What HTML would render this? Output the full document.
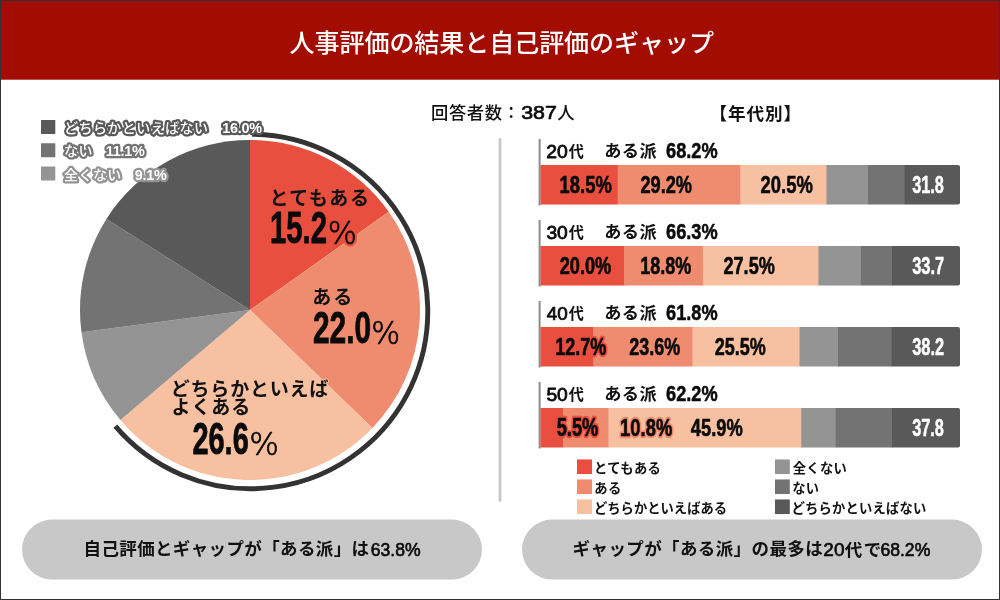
<!DOCTYPE html>
<html lang="ja"><head><meta charset="utf-8"><title>人事評価の結果と自己評価のギャップ</title>
<style>
html,body{margin:0;padding:0;background:#fff;}
svg{display:block;}
text{font-family:"Liberation Sans", "Noto Sans CJK JP", sans-serif;}
.lg{font-weight:500;fill:#fff;stroke-width:4.6px;stroke-linejoin:round;paint-order:stroke fill;}
</style></head><body>
<svg width="1000" height="600" viewBox="0 0 1000 600">
<rect x="0" y="0" width="1000" height="600" fill="#fff"/>
<rect x="0" y="0" width="1000" height="79.7" fill="#A30C00"/>
<text x="289.55" y="52.20" font-size="25.00" letter-spacing="-0.041" font-weight="500" fill="#fff">人事評価の結果と自己評価のギャップ</text>
<path d="M250 310 L250.00 140.00 A170 170 0 0 1 388.78 211.81 Z" fill="#E84F3E"/>
<path d="M250 310 L388.78 211.81 A170 170 0 0 1 372.45 427.92 Z" fill="#EF8C70"/>
<path d="M250 310 L372.45 427.92 A170 170 0 0 1 120.38 420.00 Z" fill="#F6C0A1"/>
<path d="M250 310 L120.38 420.00 A170 170 0 0 1 81.48 332.37 Z" fill="#949494"/>
<path d="M250 310 L81.48 332.37 A170 170 0 0 1 106.46 218.91 Z" fill="#737373"/>
<path d="M250 310 L106.46 218.91 A170 170 0 0 1 250.00 140.00 Z" fill="#595959"/>
<path d="M252.05 134.26 A177.25 177.25 0 1 1 115.36 426.19" fill="none" stroke="#333" stroke-width="4.9"/>
<rect x="41" y="120" width="14.3" height="14" fill="#595959"/>
<text class="lg" x="64" y="133" font-size="14" letter-spacing="0.45" stroke="#595959">どちらかといえばない</text>
<text class="lg" x="222.3" y="133" font-size="14.4" font-weight="700" style="font-weight:700" letter-spacing="-0.25" stroke="#595959">16.0%</text>
<rect x="41" y="143.25" width="14.3" height="14" fill="#737373"/>
<text class="lg" x="64" y="156.25" font-size="14" letter-spacing="0.45" stroke="#737373">ない</text>
<text class="lg" x="105.8" y="156.25" font-size="14.4" font-weight="700" style="font-weight:700" letter-spacing="-0.25" stroke="#737373">11.1%</text>
<rect x="41" y="166.5" width="14.3" height="14" fill="#949494"/>
<text class="lg" x="64" y="179.5" font-size="14" letter-spacing="0.45" stroke="#949494">全くない</text>
<text class="lg" x="134.8" y="179.5" font-size="14.4" font-weight="700" style="font-weight:700" letter-spacing="-0.25" stroke="#949494">9.1%</text>
<text x="269.38" y="205.47" font-size="19.00" letter-spacing="1.505" font-weight="700" fill="#111" stroke="#E84F3E" stroke-width="2" stroke-linejoin="round" paint-order="stroke fill">とてもある</text>
<text transform="translate(270.01 243.36) scale(0.6663 1)" font-size="43.94" font-weight="700" fill="#0a0a0a" stroke="#0a0a0a" stroke-width="0.8" stroke-linejoin="round">15.2</text>
<text transform="translate(327.70 243.84) scale(0.9783 1)" font-size="31.32" font-weight="200" fill="#E84F3E" stroke="#E84F3E" stroke-width="5" stroke-linejoin="round" style="font-family:'DejaVu Sans', 'Liberation Sans', sans-serif">%</text>
<text transform="translate(327.70 243.84) scale(0.9783 1)" font-size="31.32" font-weight="200" fill="#0a0a0a" style="font-family:'DejaVu Sans', 'Liberation Sans', sans-serif" stroke="#0a0a0a" stroke-width="0.7" stroke-linejoin="round">%</text>
<text x="312.29" y="303.67" font-size="19.00" letter-spacing="1.990" font-weight="700" fill="#111">ある</text>
<text transform="translate(312.98 343.36) scale(0.6841 1)" font-size="43.66" font-weight="700" fill="#0a0a0a" stroke="#0a0a0a" stroke-width="0.8" stroke-linejoin="round">22.0</text>
<text transform="translate(371.21 343.84) scale(0.9706 1)" font-size="31.32" font-weight="200" fill="#0a0a0a" style="font-family:'DejaVu Sans', 'Liberation Sans', sans-serif" stroke="#0a0a0a" stroke-width="0.7" stroke-linejoin="round">%</text>
<text x="170.75" y="395.86" font-size="19.00" letter-spacing="0.804" font-weight="700" fill="#111" stroke="#F6C0A1" stroke-width="2" stroke-linejoin="round" paint-order="stroke fill">どちらかといえば</text>
<text x="171.51" y="414.48" font-size="19.00" letter-spacing="0.923" font-weight="700" fill="#111">よくある</text>
<text transform="translate(192.40 454.46) scale(0.6636 1)" font-size="43.66" font-weight="700" fill="#0a0a0a" stroke="#0a0a0a" stroke-width="0.8" stroke-linejoin="round">26.6</text>
<text transform="translate(249.16 454.84) scale(0.9975 1)" font-size="31.32" font-weight="200" fill="#0a0a0a" style="font-family:'DejaVu Sans', 'Liberation Sans', sans-serif" stroke="#0a0a0a" stroke-width="0.7" stroke-linejoin="round">%</text>
<text x="431.12" y="118.94" font-size="17.30" letter-spacing="0.568" font-weight="500" fill="#111">回答者数：</text>
<text transform="translate(521.24 118.60) scale(1.2167 1)" font-size="17.54" font-weight="400" fill="#0a0a0a" stroke="#0a0a0a" stroke-width="0.65" stroke-linejoin="round">387</text>
<text x="557.18" y="119.09" font-size="17.30" letter-spacing="0.000" font-weight="500" fill="#111">人</text>
<text x="709.38" y="119.52" font-size="17.60" letter-spacing="0.908" font-weight="700" fill="#111">【年代別】</text>
<line x1="500" y1="139.5" x2="500" y2="500.5" stroke="#C8C8C8" stroke-width="2.8" stroke-linecap="round"/>
<rect x="538.6" y="139" width="2" height="66.5" fill="#8c8c8c"/>
<rect x="540.50" y="165" width="77.70" height="39.5" fill="#E84F3E"/>
<rect x="617.70" y="165" width="123.14" height="39.5" fill="#EF8C70"/>
<rect x="740.34" y="165" width="86.60" height="39.5" fill="#F6C0A1"/>
<rect x="826.44" y="165" width="42.08" height="39.5" fill="#949494"/>
<rect x="868.02" y="165" width="37.04" height="39.5" fill="#737373"/>
<path d="M904.56 165 H958 a2 2 0 0 1 2 2 V202.5 a2 2 0 0 1 -2 2 H904.56 Z" fill="#595959"/>
<text transform="translate(546.24 157.55) scale(1.0969 1)" font-size="17.68" font-weight="400" fill="#0a0a0a" stroke="#0a0a0a" stroke-width="0.75" stroke-linejoin="round">20</text>
<text transform="translate(568.75 157.32) scale(0.9200 1)" font-size="16.40" letter-spacing="0.000" font-weight="700" fill="#111">代</text>
<text x="604.15" y="157.45" font-size="17.20" letter-spacing="0.496" font-weight="700" fill="#111">ある派</text>
<text transform="translate(666.08 158.24) scale(0.8495 1)" font-size="21.41" font-weight="700" fill="#0a0a0a" stroke="#0a0a0a" stroke-width="0.5" stroke-linejoin="round">68.2%</text>
<text transform="translate(559.62 192.85) scale(0.7458 1)" font-size="24.65" font-weight="700" fill="#0a0a0a" stroke="#0a0a0a" stroke-width="0.6" stroke-linejoin="round">18.5%</text>
<text transform="translate(640.43 192.85) scale(0.7378 1)" font-size="24.65" font-weight="700" fill="#0a0a0a" stroke="#0a0a0a" stroke-width="0.6" stroke-linejoin="round">29.2%</text>
<text transform="translate(760.57 192.85) scale(0.7480 1)" font-size="24.65" font-weight="700" fill="#0a0a0a" stroke="#0a0a0a" stroke-width="0.6" stroke-linejoin="round">20.5%</text>
<text transform="translate(912.14 192.90) scale(0.6597 1)" font-size="24.79" font-weight="700" fill="#fff" stroke="#fff" stroke-width="0.5" stroke-linejoin="round">31.8</text>
<rect x="538.6" y="220" width="2" height="66.5" fill="#8c8c8c"/>
<rect x="540.50" y="246" width="84.00" height="39.5" fill="#E84F3E"/>
<rect x="624.00" y="246" width="79.46" height="39.5" fill="#EF8C70"/>
<rect x="702.96" y="246" width="116.00" height="39.5" fill="#F6C0A1"/>
<rect x="818.46" y="246" width="42.92" height="39.5" fill="#949494"/>
<rect x="860.88" y="246" width="31.58" height="39.5" fill="#737373"/>
<path d="M891.96 246 H958 a2 2 0 0 1 2 2 V283.5 a2 2 0 0 1 -2 2 H891.96 Z" fill="#595959"/>
<text transform="translate(546.44 238.55) scale(1.0867 1)" font-size="17.68" font-weight="400" fill="#0a0a0a" stroke="#0a0a0a" stroke-width="0.75" stroke-linejoin="round">30</text>
<text transform="translate(568.75 238.32) scale(0.9200 1)" font-size="16.40" letter-spacing="0.000" font-weight="700" fill="#111">代</text>
<text x="604.15" y="238.45" font-size="17.20" letter-spacing="0.496" font-weight="700" fill="#111">ある派</text>
<text transform="translate(666.08 239.24) scale(0.8495 1)" font-size="21.41" font-weight="700" fill="#0a0a0a" stroke="#0a0a0a" stroke-width="0.5" stroke-linejoin="round">66.3%</text>
<text transform="translate(559.68 273.85) scale(0.7378 1)" font-size="24.65" font-weight="700" fill="#0a0a0a" stroke="#0a0a0a" stroke-width="0.6" stroke-linejoin="round">20.0%</text>
<text transform="translate(640.14 273.85) scale(0.7312 1)" font-size="24.65" font-weight="700" fill="#0a0a0a" stroke="#0a0a0a" stroke-width="0.6" stroke-linejoin="round">18.8%</text>
<text transform="translate(723.48 273.85) scale(0.7349 1)" font-size="24.65" font-weight="700" fill="#0a0a0a" stroke="#0a0a0a" stroke-width="0.6" stroke-linejoin="round">27.5%</text>
<text transform="translate(912.14 273.90) scale(0.6666 1)" font-size="24.79" font-weight="700" fill="#fff" stroke="#fff" stroke-width="0.5" stroke-linejoin="round">33.7</text>
<rect x="538.6" y="301" width="2" height="66.5" fill="#8c8c8c"/>
<rect x="540.50" y="327" width="53.34" height="39.5" fill="#E84F3E"/>
<rect x="593.34" y="327" width="99.62" height="39.5" fill="#EF8C70"/>
<rect x="692.46" y="327" width="107.60" height="39.5" fill="#F6C0A1"/>
<rect x="799.56" y="327" width="38.93" height="39.5" fill="#949494"/>
<rect x="837.99" y="327" width="53.84" height="39.5" fill="#737373"/>
<path d="M891.33 327 H958 a2 2 0 0 1 2 2 V364.5 a2 2 0 0 1 -2 2 H891.33 Z" fill="#595959"/>
<text transform="translate(546.82 319.55) scale(1.0668 1)" font-size="17.68" font-weight="400" fill="#0a0a0a" stroke="#0a0a0a" stroke-width="0.75" stroke-linejoin="round">40</text>
<text transform="translate(568.75 319.32) scale(0.9200 1)" font-size="16.40" letter-spacing="0.000" font-weight="700" fill="#111">代</text>
<text x="604.15" y="319.45" font-size="17.20" letter-spacing="0.496" font-weight="700" fill="#111">ある派</text>
<text transform="translate(666.08 320.24) scale(0.8495 1)" font-size="21.41" font-weight="700" fill="#0a0a0a" stroke="#0a0a0a" stroke-width="0.5" stroke-linejoin="round">61.8%</text>
<text transform="translate(555.14 354.85) scale(0.7312 1)" font-size="24.65" font-weight="700" fill="#E84F3E" stroke="#E84F3E" stroke-width="4.5" stroke-linejoin="round">12.7%</text>
<text transform="translate(555.14 354.85) scale(0.7312 1)" font-size="24.65" font-weight="700" fill="#0a0a0a" stroke="#0a0a0a" stroke-width="0.6" stroke-linejoin="round">12.7%</text>
<text transform="translate(629.18 354.85) scale(0.7306 1)" font-size="24.65" font-weight="700" fill="#0a0a0a" stroke="#0a0a0a" stroke-width="0.6" stroke-linejoin="round">23.6%</text>
<text transform="translate(714.68 354.85) scale(0.7306 1)" font-size="24.65" font-weight="700" fill="#0a0a0a" stroke="#0a0a0a" stroke-width="0.6" stroke-linejoin="round">25.5%</text>
<text transform="translate(912.14 354.90) scale(0.6631 1)" font-size="24.79" font-weight="700" fill="#fff" stroke="#fff" stroke-width="0.5" stroke-linejoin="round">38.2</text>
<rect x="538.6" y="382" width="2" height="66.5" fill="#8c8c8c"/>
<rect x="540.50" y="408" width="23.10" height="39.5" fill="#E84F3E"/>
<rect x="563.10" y="408" width="45.86" height="39.5" fill="#EF8C70"/>
<rect x="608.46" y="408" width="193.28" height="39.5" fill="#F6C0A1"/>
<rect x="801.24" y="408" width="34.94" height="39.5" fill="#949494"/>
<rect x="835.68" y="408" width="56.78" height="39.5" fill="#737373"/>
<path d="M891.96 408 H958 a2 2 0 0 1 2 2 V445.5 a2 2 0 0 1 -2 2 H891.96 Z" fill="#595959"/>
<text transform="translate(546.44 400.55) scale(1.0867 1)" font-size="17.68" font-weight="400" fill="#0a0a0a" stroke="#0a0a0a" stroke-width="0.75" stroke-linejoin="round">50</text>
<text transform="translate(568.75 400.32) scale(0.9200 1)" font-size="16.40" letter-spacing="0.000" font-weight="700" fill="#111">代</text>
<text x="604.15" y="400.45" font-size="17.20" letter-spacing="0.496" font-weight="700" fill="#111">ある派</text>
<text transform="translate(666.08 401.24) scale(0.8495 1)" font-size="21.41" font-weight="700" fill="#0a0a0a" stroke="#0a0a0a" stroke-width="0.5" stroke-linejoin="round">62.2%</text>
<text transform="translate(556.67 435.85) scale(0.7308 1)" font-size="25.00" font-weight="700" fill="#E84F3E" stroke="#E84F3E" stroke-width="4.5" stroke-linejoin="round">5.5%</text>
<text transform="translate(556.67 435.85) scale(0.7308 1)" font-size="25.00" font-weight="700" fill="#0a0a0a" stroke="#0a0a0a" stroke-width="0.6" stroke-linejoin="round">5.5%</text>
<text transform="translate(620.12 435.85) scale(0.7458 1)" font-size="24.65" font-weight="700" fill="#EF8C70" stroke="#EF8C70" stroke-width="4.5" stroke-linejoin="round">10.8%</text>
<text transform="translate(620.12 435.85) scale(0.7458 1)" font-size="24.65" font-weight="700" fill="#0a0a0a" stroke="#0a0a0a" stroke-width="0.6" stroke-linejoin="round">10.8%</text>
<text transform="translate(690.86 435.85) scale(0.7424 1)" font-size="24.65" font-weight="700" fill="#0a0a0a" stroke="#0a0a0a" stroke-width="0.6" stroke-linejoin="round">45.9%</text>
<text transform="translate(912.14 435.90) scale(0.6597 1)" font-size="24.79" font-weight="700" fill="#fff" stroke="#fff" stroke-width="0.5" stroke-linejoin="round">37.8</text>
<rect x="577" y="459.45" width="15" height="14.6" fill="#E84F3E"/>
<text x="594.01" y="472.72" font-size="13.30" letter-spacing="0.363" font-weight="700" fill="#111">とてもある</text>
<rect x="577" y="479.45" width="15" height="14.6" fill="#EF8C70"/>
<text x="594.30" y="492.72" font-size="13.30" letter-spacing="0.393" font-weight="700" fill="#111">ある</text>
<rect x="577" y="499.45" width="15" height="14.6" fill="#F6C0A1"/>
<text x="593.90" y="512.72" font-size="13.30" letter-spacing="0.032" font-weight="700" fill="#111">どちらかといえばある</text>
<rect x="775" y="459.45" width="14.8" height="14.6" fill="#949494"/>
<text x="792.73" y="472.59" font-size="13.30" letter-spacing="0.288" font-weight="700" fill="#111">全くない</text>
<rect x="775" y="479.45" width="14.8" height="14.6" fill="#737373"/>
<text x="792.37" y="492.72" font-size="13.30" letter-spacing="0.129" font-weight="700" fill="#111">ない</text>
<rect x="775" y="499.45" width="14.8" height="14.6" fill="#595959"/>
<text x="791.40" y="512.72" font-size="13.30" letter-spacing="0.221" font-weight="700" fill="#111">どちらかといえばない</text>
<rect x="22" y="519.6" width="460" height="60" rx="30" fill="#C8C8C8"/>
<rect x="522" y="519.6" width="460" height="60" rx="30" fill="#C8C8C8"/>
<text x="83.55" y="555.38" font-size="17.50" letter-spacing="0.363" font-weight="700" fill="#111">自己評価とギャップが「ある派」は</text>
<text transform="translate(370.71 556.02) scale(0.9544 1)" font-size="18.45" font-weight="400" fill="#0a0a0a" stroke="#0a0a0a" stroke-width="0.6" stroke-linejoin="round">63.8%</text>
<text x="572.60" y="555.38" font-size="17.50" letter-spacing="0.392" font-weight="700" fill="#111">ギャップが「ある派」の最多は</text>
<text transform="translate(823.37 555.82) scale(1.0613 1)" font-size="17.89" font-weight="400" fill="#0a0a0a" stroke="#0a0a0a" stroke-width="0.6" stroke-linejoin="round">20</text>
<text x="844.83" y="555.72" font-size="17.50" letter-spacing="1.400" font-weight="700" fill="#111">代で</text>
<text transform="translate(880.42 555.82) scale(0.9841 1)" font-size="17.89" font-weight="400" fill="#0a0a0a" stroke="#0a0a0a" stroke-width="0.6" stroke-linejoin="round">68.2%</text>
<rect x="0.5" y="0.5" width="999" height="599" fill="none" stroke="#333" stroke-width="1"/>
</svg></body></html>
